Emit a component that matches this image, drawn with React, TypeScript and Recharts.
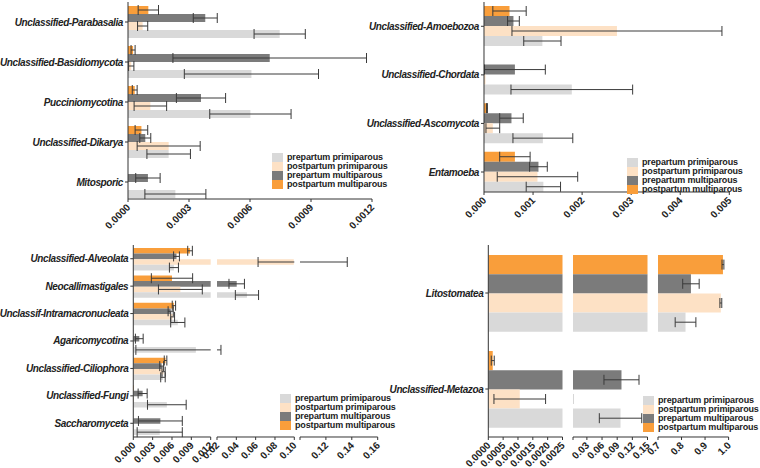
import React from "react"
import { BarChart, Bar, XAxis, YAxis, ErrorBar } from "recharts"

// ---- panel A (top left)
const aCategories = ["Unclassified-Parabasalia", "Unclassified-Basidiomycota", "Pucciniomycotina", "Unclassified-Dikarya", "Mitosporic"]
const aPrePrimi = [0.000746, 0.000607, 0.000602, 0.0002, 0.000233]
const aPrePrimiErr = [0.000126, 0.00033, 0.0002, 0.000107, 0.00015]
const aPostPrimi = [0.000072, 0.000016, 0.00011, 0.0002, 0]
const aPostPrimiErr = [0.000025, 0.000013, 0.00008, 0.000155, 0]
const aPreMulti = [0.00038, 0.000697, 0.000359, 0.000085, 0.000098]
const aPreMultiErr = [0.000059, 0.000476, 0.000121, 0.000027, 0.00006]
const aPostMulti = [0.0001, 0.000025, 0.000033, 0.000066, 0]
const aPostMultiErr = [0.00005, 0.00001, 0.000012, 0.000031, 0]
const aTicks = [0, 0.0003, 0.0006, 0.0009, 0.0012]

// ---- panel B (top right)
const bCategories = ["Unclassified-Amoebozoa", "Unclassified-Chordata", "Unclassified-Ascomycota", "Entamoeba"]
const bPrePrimi = [0.00119, 0.00179, 0.0012, 0.00121]
const bPrePrimiErr = [0.00038, 0.00124, 0.00061, 0.00035]
const bPostPrimi = [0.00271, 0.00003, 0.00018, 0.00109]
const bPostPrimiErr = [0.00214, 0, 0.00014, 0.00082]
const bPreMulti = [0.0006, 0.00063, 0.00056, 0.00111]
const bPreMultiErr = [0.00012, 0.00062, 0.00024, 0.00018]
const bPostMulti = [0.00052, 0, 0.00006, 0.00063]
const bPostMultiErr = [0.00034, 0, 0.00001, 0.00031]
const bTicks = [0, 0.001, 0.002, 0.003, 0.004, 0.005]

// ---- panel C (bottom left, broken axis)
const cCategories = ["Unclassified-Alveolata", "Neocallimastigales", "Unclassif-Intramacronucleata", "Agaricomycotina", "Unclassified-Ciliophora", "Unclassified-Fungi", "Saccharomyceta"]
const cPrePrimi = [0.0063, 0.051, 0.0069, 0.0097, 0.0046, 0.0052, 0.0041]
const cPrePrimiErr = [0.0007, 0.012, 0.0011, [0.0093, 0.0144], 0.00035, 0.003, 0.0035]
const cPostPrimi = [0.0995, 0.0073, 0.0061, 0, 0.0047, 0.0001, 0]
const cPostPrimiErr = [0.037, 0.0034, 0.0003, 0, 0.00025, 0, 0]
const cPreMulti = [0.0067, 0.0404, 0.0058, 0.00093, 0.0044, 0.00145, 0.0042]
const cPreMultiErr = [0.00045, 0.008, 0.0004, 0.0006, 0.0003, 0.0007, 0.0034]
const cPostMulti = [0.0088, 0.006, 0.0063, 0, 0.005, 0.0001, 0]
const cPostMultiErr = [0.00036, 0.0032, 0.00026, 0, 0.0002, 0, 0]
const cTicks1 = [0, 0.003, 0.006, 0.009, 0.012]
const cTicks2 = [0.02, 0.04, 0.06, 0.08, 0.1]
const cTicks3 = [0.1, 0.12, 0.14, 0.16]

// ---- panel D (bottom right, broken axis)
const dCategories = ["Litostomatea", "Unclassified-Metazoa"]
const dPrePrimi = [0.817, 0.0966]
const dPrePrimiErr = [0.044, 0.042]
const dPostPrimi = [0.967, 0.00106]
const dPostPrimiErr = [0.004, 0.00087]
const dPreMulti = [0.84, 0.0985]
const dPreMultiErr = [0.035, 0.0347]
const dPostMulti = [0.976, 0.00015]
const dPostMultiErr = [0.004, 0.00005]
const dTicks1 = [0, 0.0005, 0.001, 0.0015, 0.002, 0.0025]
const dTicks2 = [0.0025, 0.03, 0.06, 0.09, 0.12, 0.15]
const dTicks3 = [0.7, 0.8, 0.9, 1.0]

const COLORS: Record<string, string> = {
  prePrimi: "#d9d9d9",
  postPrimi: "#fde1c5",
  preMulti: "#7b7b7b",
  postMulti: "#f99e3b",
}
// top-to-bottom order inside each group
const barOrder = ["postMulti", "preMulti", "postPrimi", "prePrimi"]
const legendItems = [
  ["prePrimi", "prepartum primiparous"],
  ["postPrimi", "postpartum primiparous"],
  ["preMulti", "prepartum multiparous"],
  ["postMulti", "postpartum multiparous"],
]

const FONT = "'Liberation Sans', Arial, sans-serif"
const INK = "#222"

function rows(cats: string[], s: Record<string, any[]>) {
  return cats.map((name, i) => {
    const r: any = { name }
    Object.keys(s).forEach((k) => (r[k] = s[k][i]))
    return r
  })
}

const aData = rows(aCategories, {
  prePrimi: aPrePrimi, prePrimiErr: aPrePrimiErr, postPrimi: aPostPrimi, postPrimiErr: aPostPrimiErr,
  preMulti: aPreMulti, preMultiErr: aPreMultiErr, postMulti: aPostMulti, postMultiErr: aPostMultiErr,
})
const bData = rows(bCategories, {
  prePrimi: bPrePrimi, prePrimiErr: bPrePrimiErr, postPrimi: bPostPrimi, postPrimiErr: bPostPrimiErr,
  preMulti: bPreMulti, preMultiErr: bPreMultiErr, postMulti: bPostMulti, postMultiErr: bPostMultiErr,
})
const cData = rows(cCategories, {
  prePrimi: cPrePrimi, prePrimiErr: cPrePrimiErr, postPrimi: cPostPrimi, postPrimiErr: cPostPrimiErr,
  preMulti: cPreMulti, preMultiErr: cPreMultiErr, postMulti: cPostMulti, postMultiErr: cPostMultiErr,
})
const dData = rows(dCategories, {
  prePrimi: dPrePrimi, prePrimiErr: dPrePrimiErr, postPrimi: dPostPrimi, postPrimiErr: dPostPrimiErr,
  preMulti: dPreMulti, preMultiErr: dPreMultiErr, postMulti: dPostMulti, postMultiErr: dPostMultiErr,
})

function xTick(props: any, decimals: number, hidden: number[]) {
  const { x, y, payload } = props
  const v = payload.value
  if (hidden.some((h) => Math.abs(h - v) < 1e-9)) return <g />
  const tx = x + 3
  const ty = y + 4
  return (
    <text x={tx} y={ty} transform={`rotate(-45 ${tx} ${ty})`} textAnchor="end"
      fontSize={10} fontWeight="bold" fill={INK} fontFamily={FONT}>
      {v.toFixed(decimals)}
    </text>
  )
}

function yTick(props: any) {
  const { x, y, payload } = props
  return (
    <text x={x} y={y} dy="0.35em" textAnchor="end" fontSize={10} fontWeight="bold"
      fontStyle="italic" letterSpacing={-0.4} fill={INK} fontFamily={FONT}>
      {payload.value}
    </text>
  )
}

interface SegProps {
  id: string
  data: any[]
  left: number
  right: number
  top: number
  bottom: number
  domain: [number, number]
  ticks: number[]
  decimals: number
  hidden?: number[]
  barSize: number
  yWidth?: number
  padBottom?: number
}

function Segment({ id, data, left, right, top, bottom, domain, ticks, decimals, hidden = [], barSize, yWidth, padBottom = 0 }: SegProps) {
  const showY = !!yWidth
  const padL = showY ? (yWidth as number) : 30
  const padR = 12
  const padT = 4
  const axisH = 45
  const w = padL + (right - left) + padR
  const h = padT + (bottom - top) + axisH
  const clipId = "clip-" + id
  return (
    <div style={{ position: "absolute", left: left - padL, top: top - padT }}>
      {/* error bars are not clipped by recharts, so keep them inside this piece of the broken axis */}
      <svg width={0} height={0} style={{ position: "absolute" }}>
        <defs>
          <clipPath id={clipId}>
            <rect x={padL} y={0} width={right - left} height={h} />
          </clipPath>
        </defs>
      </svg>
      <BarChart layout="vertical" width={w} height={h} data={data} barGap={0} barSize={barSize}
        margin={{ top: padT, right: padR, bottom: 0, left: showY ? 0 : padL }}>
        <XAxis type="number" domain={domain} ticks={ticks} allowDataOverflow interval={0}
          height={axisH} tickSize={3} axisLine={{ stroke: "#333" }} tickLine={{ stroke: "#333" }}
          tick={(p: any) => xTick(p, decimals, hidden)} />
        <YAxis type="category" dataKey="name" hide={!showY} width={showY ? yWidth : 0}
          padding={{ top: 0, bottom: padBottom }}
          tickSize={3} axisLine={{ stroke: "#333" }} tickLine={{ stroke: "#333" }} tick={yTick} interval={0} />
        {barOrder.map((k) => (
          <Bar key={k} dataKey={k} fill={COLORS[k]} isAnimationActive={false}>
            <ErrorBar dataKey={k + "Err"} direction="x" width={5} stroke="#3a3a3a" strokeWidth={1}
              clipPath={`url(#${clipId})`} />
          </Bar>
        ))}
      </BarChart>
    </div>
  )
}

function LegendBox({ left, top }: { left: number; top: number }) {
  return (
    <div style={{ position: "absolute", left, top, fontFamily: FONT, fontWeight: "bold", fontSize: 9, color: INK }}>
      {legendItems.map(([k, label]) => (
        <div key={k} style={{ display: "flex", alignItems: "center", height: 9 }}>
          <span style={{ width: 11, height: 9, background: COLORS[k], marginRight: 4, flex: "none" }} />
          <span style={{ letterSpacing: -0.15, whiteSpace: "nowrap", lineHeight: "9px" }}>{label}</span>
        </div>
      ))}
    </div>
  )
}

export default function App() {
  const cTop = 244.5
  const cBottom = 436.5
  return (
    <div style={{ position: "absolute", left: 0, top: 0, width: 760, height: 468, background: "#fff", overflow: "hidden" }}>
      {/* top left */}
      <Segment id="a" data={aData} left={128} right={372} top={2} bottom={199} domain={[0, 0.0012]}
        ticks={aTicks} decimals={4} barSize={8} yWidth={128} padBottom={-3} />
      <LegendBox left={272} top={152.5} />

      {/* top right */}
      <Segment id="b" data={bData} left={483.7} right={729} top={1.7} bottom={191.7} domain={[0, 0.005]}
        ticks={bTicks} decimals={3} barSize={10} yWidth={124} padBottom={-4.3} />
      <LegendBox left={627} top={157.5} />

      {/* bottom left, three pieces */}
      <Segment id="c1" data={cData} left={133.3} right={210.7} top={cTop} bottom={cBottom} domain={[0, 0.012]}
        ticks={cTicks1} decimals={3} barSize={5.6} yWidth={133.3} />
      <Segment id="c2" data={cData} left={216.7} right={294} top={cTop} bottom={cBottom} domain={[0.02, 0.1]}
        ticks={cTicks2} decimals={2} barSize={5.6} />
      <Segment id="c3" data={cData} left={300} right={377.7} top={cTop} bottom={cBottom} domain={[0.1, 0.16]}
        ticks={cTicks3} decimals={2} hidden={[0.1]} barSize={5.6} />
      <LegendBox left={280} top={393.5} />

      {/* bottom right, three pieces */}
      <Segment id="d1" data={dData} left={488.3} right={562.5} top={cTop} bottom={cBottom} domain={[0, 0.0025]}
        ticks={dTicks1} decimals={4} barSize={19.2} yWidth={108.3} />
      <Segment id="d2" data={dData} left={572.5} right={647} top={cTop} bottom={cBottom} domain={[0.0025, 0.15]}
        ticks={dTicks2} decimals={2} hidden={[0.0025]} barSize={19.2} />
      <Segment id="d3" data={dData} left={657.7} right={728.3} top={cTop} bottom={cBottom} domain={[0.7, 1.0]}
        ticks={dTicks3} decimals={1} barSize={19.2} />
      <LegendBox left={643} top={396} />
    </div>
  )
}
